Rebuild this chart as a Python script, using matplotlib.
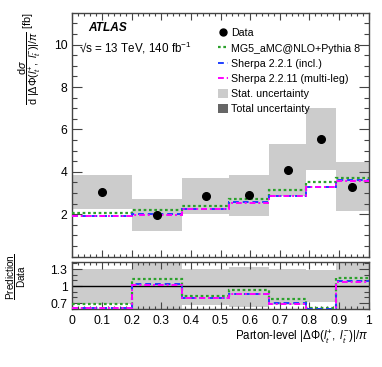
import matplotlib
matplotlib.use("Agg")
import matplotlib.pyplot as plt
import numpy as np
from matplotlib.patches import Patch
from matplotlib.lines import Line2D
from matplotlib.ticker import MultipleLocator, FormatStrFormatter

plt.rcParams['font.family'] = ['Liberation Sans', 'DejaVu Sans']
plt.rcParams['mathtext.fontset'] = 'custom'
plt.rcParams['mathtext.rm'] = 'Liberation Sans'
plt.rcParams['mathtext.it'] = 'Liberation Sans:italic'
plt.rcParams['mathtext.bf'] = 'Liberation Sans:bold'

# ---- data ----
bin_edges = [0.0, 0.2, 0.37, 0.53, 0.665, 0.79, 0.89, 1.0]
bin_centers = [0.10, 0.285, 0.45, 0.5975, 0.7275, 0.84, 0.945]
data_values = [3.05, 1.95, 2.85, 2.91, 4.10, 5.55, 3.30]
band_up = [3.85, 2.71, 3.71, 3.85, 5.32, 7.00, 4.47]
band_lo = [2.23, 1.21, 2.00, 1.93, 2.88, 4.09, 2.17]
mg5 = [2.08, 2.20, 2.38, 2.72, 3.15, 3.51, 3.73]
sherpa221 = [1.92, 2.01, 2.26, 2.57, 2.88, 3.30, 3.60]
sherpa2211 = [1.90, 1.98, 2.24, 2.55, 2.86, 3.28, 3.55]

ratio_band_up = [1.31, 1.50, 1.31, 1.34, 1.31, 1.28, 1.50]
ratio_band_lo = [0.68, 0.50, 0.665, 0.635, 0.665, 0.72, 0.50]
ratio_mg5 = [0.68, 1.12, 0.83, 0.93, 0.765, 0.607, 1.135]
ratio_sherpa221 = [0.617, 1.03, 0.795, 0.865, 0.695, 0.59, 1.088]
ratio_sherpa2211 = [0.61, 1.025, 0.79, 0.86, 0.69, 0.585, 1.065]

x_ticks = [0, 0.1, 0.2, 0.3, 0.4, 0.5, 0.6, 0.7, 0.8, 0.9, 1]
main_yticks = [2, 4, 6, 8, 10]
ratio_yticks = [0.7, 1.0, 1.3]

c_band = '#cccccc'
c_total = '#666666'
c_mg5 = '#2ca02c'
c_sh1 = '#1f3fff'
c_sh2 = '#ff00ff'

W, H = 382, 367
fig = plt.figure(figsize=(W / 100, H / 100), dpi=100)
L, R = 72.3 / W, 368.7 / W
ax = fig.add_axes([L, 1 - 256.6 / H, R - L, (256.6 - 13.3) / H])
axr = fig.add_axes([L, 1 - 309.3 / H, R - L, (309.3 - 262.3) / H])

edges = np.array(bin_edges)
widths = np.diff(edges)

ls_mg5 = (0, (1.2, 1.2))
ls_sh1 = (0, (3, 2))
ls_sh2 = (0, (3, 1.5, 1, 1.5))

# main panel
ax.bar(edges[:-1], np.array(band_up) - np.array(band_lo), bottom=band_lo, width=widths,
       align='edge', color=c_band, linewidth=0, zorder=1)
ax.stairs(mg5, edges, baseline=None, color=c_mg5, linestyle=ls_mg5, linewidth=1.6, zorder=3)
ax.stairs(sherpa221, edges, baseline=None, color=c_sh1, linestyle=ls_sh1, linewidth=1.4, zorder=3)
ax.stairs(sherpa2211, edges, baseline=None, color=c_sh2, linestyle=ls_sh2, linewidth=1.4, zorder=3)
ax.plot(bin_centers, data_values, 'o', color='black', markersize=5.5, zorder=5)

ax.set_xlim(0, 1)
ax.set_ylim(0, 11.48)
ax.set_yticks(main_yticks)
ax.yaxis.set_minor_locator(MultipleLocator(0.5))
ax.xaxis.set_major_locator(MultipleLocator(0.1))
ax.xaxis.set_minor_locator(MultipleLocator(0.02))
ax.tick_params(axis='x', labelbottom=False)

# ratio panel
axr.bar(edges[:-1], np.array(ratio_band_up) - np.array(ratio_band_lo), bottom=ratio_band_lo,
        width=widths, align='edge', color=c_band, linewidth=0, zorder=1)
axr.axhline(1.0, color='black', linewidth=1.0, zorder=2)
axr.stairs(ratio_mg5, edges, baseline=None, color=c_mg5, linestyle=ls_mg5, linewidth=1.6, zorder=3)
axr.stairs(ratio_sherpa221, edges, baseline=None, color=c_sh1, linestyle=ls_sh1, linewidth=1.4, zorder=3)
axr.stairs(ratio_sherpa2211, edges, baseline=None, color=c_sh2, linestyle=ls_sh2, linewidth=1.4, zorder=3)
axr.set_xlim(0, 1)
axr.set_ylim(0.59, 1.42)
axr.set_yticks(ratio_yticks)
axr.yaxis.set_major_formatter(FormatStrFormatter('%g'))
axr.yaxis.set_minor_locator(MultipleLocator(0.1))
axr.set_xticks(x_ticks)
axr.xaxis.set_major_formatter(FormatStrFormatter('%g'))
axr.xaxis.set_minor_locator(MultipleLocator(0.02))

for a in (ax, axr):
    a.tick_params(which='both', direction='in', top=True, right=True, labelsize=8.7,
                  color='#444444', width=0.8)
    a.tick_params(which='major', length=7)
    a.tick_params(which='minor', length=3.5)
    for s in a.spines.values():
        s.set_color('#444444')
        s.set_linewidth(1.0)
axr.tick_params(axis='x', which='major', length=5, pad=4)
axr.tick_params(axis='x', which='minor', length=2.5)
ax.tick_params(axis='x', which='major', length=5)
ax.tick_params(axis='x', which='minor', length=2.5)

# labels
fig.text(88 / W, 1 - 28 / H, 'ATLAS', fontsize=8.6, fontweight='bold', fontstyle='italic',
         ha='left', va='center')
fig.text(79 / W, 1 - 48 / H, '\u221as = 13 TeV, 140 fb$^{-1}$', fontsize=8.4,
         ha='left', va='center')

fig.text(30 / W, 1 - 12 / H,
         r'$\dfrac{\mathrm{d}\sigma}{\mathrm{d}\ |\Delta\Phi(l_{t}^{+},\ l_{\bar{t}}^{-})|/\pi}$ [fb]',
         rotation=90, fontsize=7.8, ha='center', va='top')
fig.text(16 / W, 1 - 277 / H, r'$\dfrac{\mathrm{Prediction}}{\mathrm{Data}}$',
         rotation=90, fontsize=7.2, ha='center', va='center')
fig.text(368 / W, 1 - 337 / H,
         r'Parton-level $|\Delta\Phi(l_{t}^{+},\ l_{\bar{t}}^{-})|/\pi$',
         fontsize=8.3, ha='right', va='center')

handles = [
    Line2D([], [], marker='o', color='black', linestyle='none', markersize=5),
    Line2D([], [], color=c_mg5, linestyle=ls_mg5, linewidth=1.6),
    Line2D([], [], color=c_sh1, linestyle=ls_sh1, linewidth=1.4),
    Line2D([], [], color=c_sh2, linestyle=ls_sh2, linewidth=1.4),
    Patch(facecolor=c_band, edgecolor='none'),
    Patch(facecolor=c_total, edgecolor='none'),
]
labels = ['Data', 'MG5_aMC@NLO+Pythia 8', 'Sherpa 2.2.1 (incl.)',
          'Sherpa 2.2.11 (multi-leg)', 'Stat. uncertainty', 'Total uncertainty']
leg = ax.legend(handles, labels, loc='upper left', bbox_to_anchor=(218 / W, 1 - 28 / H),
                bbox_transform=fig.transFigure, frameon=False, fontsize=7.7,
                handlelength=0.9, handleheight=1.0, handletextpad=0.3,
                labelspacing=0.44, borderpad=0, borderaxespad=0)

fig.savefig('out.png', dpi=100)
